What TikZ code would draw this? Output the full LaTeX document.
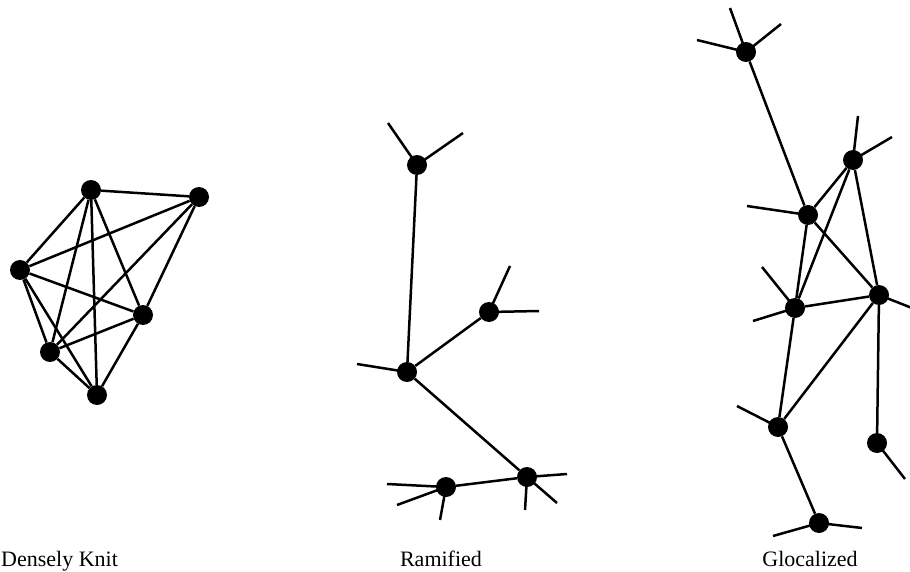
\documentclass[tikz,border=0pt]{standalone}
\usepackage{fontspec}
\setmainfont{Liberation Serif}
\begin{document}
\begin{tikzpicture}[x=1pt,y=-1pt,
  dot/.style={circle,fill=black,draw=none,minimum size=20pt,inner sep=0pt},
  edge/.style={draw=black,line width=2.5pt},
  spoke/.style={draw=black,line width=2.5pt},
  lbl/.style={anchor=base,font=\fontsize{22}{26}\selectfont}]
\useasboundingbox (0,0) rectangle (910,572);
\fill[white] (0,0) rectangle (910,572);
% ---------- Densely Knit ----------
\node[dot] (A) at (91,190) {};
\node[dot] (B) at (199,197) {};
\node[dot] (C) at (20,270) {};
\node[dot] (D) at (143,315) {};
\node[dot] (E) at (50,352) {};
\node[dot] (F) at (97,395) {};
\foreach \u/\v in {A/B,A/C,A/D,A/E,A/F,B/C,B/D,B/E,C/D,C/E,C/F,D/E,D/F,E/F}
  \draw[edge] (\u) -- (\v);
% ---------- Ramified ----------
\node[dot] (R1) at (417,165) {};
\node[dot] (R2) at (407,372) {};
\node[dot] (R3) at (489,312) {};
\node[dot] (R4) at (527,477) {};
\node[dot] (R5) at (446,487) {};
\draw[edge] (R1) -- (R2);
\draw[edge] (R2) -- (R3);
\draw[edge] (R2) -- (R4);
\draw[edge] (R4) -- (R5);
\coordinate (r1a) at (388,123);
\coordinate (r1b) at (463,133);
\coordinate (r2a) at (357,364);
\coordinate (r3a) at (510,266);
\coordinate (r3b) at (539,311);
\coordinate (r4a) at (567,474);
\coordinate (r4b) at (557,503);
\coordinate (r4c) at (525,510);
\coordinate (r5a) at (387,484);
\coordinate (r5b) at (397,505);
\coordinate (r5c) at (440,520);
\foreach \n/\s in {R1/r1a,R1/r1b,R2/r2a,R3/r3a,R3/r3b,R4/r4a,R4/r4b,R4/r4c,R5/r5a,R5/r5b,R5/r5c}
  \draw[spoke] (\n.center) -- (\s);
% ---------- Glocalized ----------
\node[dot] (G1) at (746,52) {};
\node[dot] (G2) at (808,215) {};
\node[dot] (G3) at (853,160) {};
\node[dot] (G4) at (879,295) {};
\node[dot] (G5) at (795,308) {};
\node[dot] (G6) at (778,427) {};
\node[dot] (G7) at (877,443) {};
\node[dot] (G8) at (819,523) {};
\foreach \u/\v in {G1/G2,G2/G3,G2/G4,G2/G5,G3/G5,G3/G4,G5/G4,G5/G6,G4/G6,G4/G7,G6/G8}
  \draw[edge] (\u) -- (\v);
\coordinate (g1a) at (730,8);
\coordinate (g1b) at (697,40);
\coordinate (g1c) at (781,24);
\coordinate (g2a) at (747,206);
\coordinate (g3a) at (858,116);
\coordinate (g3b) at (892,137);
\coordinate (g4a) at (912,308);
\coordinate (g5a) at (753,321);
\coordinate (g5b) at (762,267);
\coordinate (g6a) at (737,406);
\coordinate (g7a) at (905,479);
\coordinate (g8a) at (773,536);
\coordinate (g8b) at (862,528);
\foreach \n/\s in {G1/g1a,G1/g1b,G1/g1c,G2/g2a,G3/g3a,G3/g3b,G4/g4a,G5/g5a,G5/g5b,G6/g6a,G7/g7a,G8/g8a,G8/g8b}
  \draw[spoke] (\n.center) -- (\s);
% ---------- labels ----------
\node[lbl,anchor=base west,inner sep=0pt] (l1) at (1,566) {Densely Knit};
\node[lbl] (l2) at (441,566) {Ramified};
\node[lbl] (l3) at (810,566) {Glocalized};
\end{tikzpicture}
\end{document}
